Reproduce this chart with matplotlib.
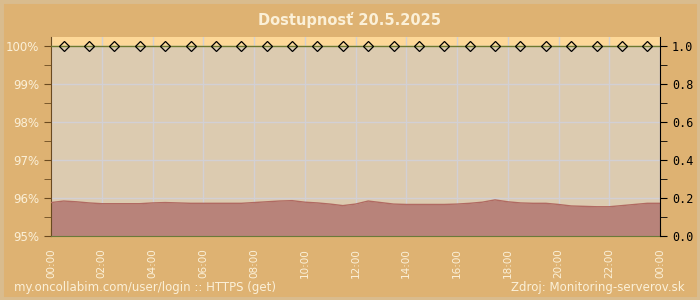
import matplotlib.pyplot as plt
import matplotlib.patches as patches
import numpy as np

# half-hour samples of availability (%), 00:00 .. 24:00
hours = np.arange(0, 24.5, 0.5)
avail = [95.88, 95.92, 95.90, 95.87, 95.85, 95.85, 95.85, 95.85, 95.87, 95.88,
         95.87, 95.86, 95.86, 95.86, 95.86, 95.86, 95.88, 95.90, 95.92, 95.93,
         95.89, 95.87, 95.84, 95.80, 95.84, 95.92, 95.88, 95.84, 95.83, 95.83,
         95.83, 95.83, 95.84, 95.86, 95.89, 95.95, 95.90, 95.87, 95.86, 95.86,
         95.83, 95.79, 95.78, 95.77, 95.77, 95.80, 95.83, 95.86, 95.86]

# hourly up-state checks
check_hours = np.arange(0.5, 24, 1.0)
check_vals = [100.0] * 24

xlabels = ["00:00", "02:00", "04:00", "06:00", "08:00", "10:00", "12:00",
           "14:00", "16:00", "18:00", "20:00", "22:00", "00:00"]
ylabels = ["95%", "96%", "97%", "98%", "99%", "100%"]
rlabels = ["0.0", "0.2", "0.4", "0.6", "0.8", "1.0"]

cream = "#fbf0d8"

fig = plt.figure(figsize=(7, 3), dpi=100, facecolor="#deb272")
fig.patches.append(patches.Rectangle((0, 0), 1, 1, transform=fig.transFigure,
                                     fill=False, edgecolor="#d9bc8e", linewidth=5))
ax = fig.add_axes([51 / 700, 64 / 300, 609 / 700, 199 / 300])
ax.set_facecolor("#dccbb0")

ymax = 100.0 + 9 / 38.0
ax.set_xlim(0, 24)
ax.set_ylim(95, ymax)
ax.axhspan(100, ymax, color="#fdd898", zorder=0)

ax.fill_between(hours, 95, avail, color="#b8837a", zorder=2, linewidth=0)
ax.plot(hours, avail, color="#b06a62", linewidth=1, zorder=3)

ax.plot([0, 24], [100, 100], color="#6e7a2e", linewidth=1, zorder=4)
ax.plot(check_hours, check_vals, linestyle="none", marker="D", markersize=5.5,
        markerfacecolor="none", markeredgecolor="black", markeredgewidth=0.9,
        zorder=5, clip_on=False)

ax.set_xticks(np.arange(0, 25, 2))
ax.set_xticklabels(xlabels, rotation=90, color=cream, fontsize=7.5)
ax.set_xticks(np.arange(0, 24.5, 0.5), minor=True)
ax.set_yticks(np.arange(95, 101, 1))
ax.set_yticklabels(ylabels, color=cream, fontsize=8.5)
ax.set_yticks(np.arange(95.5, 100, 1), minor=True)

ax.grid(True, which="major", color="#d2d0d4", linewidth=1, zorder=1)
ax.set_axisbelow(True)

ax.tick_params(axis="x", which="both", direction="in", colors="#6a7a3a",
               labelcolor=cream, pad=9)
ax.tick_params(axis="x", which="major", length=6)
ax.tick_params(axis="x", which="minor", length=4)
ax.tick_params(axis="y", which="both", direction="out", colors="#6a4a20",
               labelcolor=cream, length=5)

ax.spines["top"].set_visible(False)
ax.spines["left"].set_color("#6a4a20")
ax.spines["bottom"].set_color("#6a7a3a")
ax.spines["right"].set_visible(False)

ax2 = ax.twinx()
ax2.set_ylim(0, (ymax - 95) / 5)
ax2.set_yticks(np.arange(0, 1.01, 0.2))
ax2.set_yticklabels(rlabels, family="DejaVu Sans Mono", fontsize=8.5, color="black")
ax2.set_yticks(np.arange(0.1, 1.0, 0.2), minor=True)
ax2.tick_params(axis="y", which="both", direction="out", colors="black", length=5)
ax2.spines["right"].set_color("black")
for s in ["top", "left", "bottom"]:
    ax2.spines[s].set_visible(False)

fig.text(0.5, 1 - 20 / 300, "Dostupnosť 20.5.2025", ha="center", va="center",
         color=cream, fontsize=10.5, fontweight="bold")
fig.text(14 / 700, 1 - 288 / 300, "my.oncollabim.com/user/login :: HTTPS (get)",
         ha="left", va="center", color=cream, fontsize=8.5)
fig.text(1 - 15 / 700, 1 - 288 / 300, "Zdroj: Monitoring-serverov.sk",
         ha="right", va="center", color=cream, fontsize=8.5)

fig.savefig("out.png", dpi=100, facecolor=fig.get_facecolor())
